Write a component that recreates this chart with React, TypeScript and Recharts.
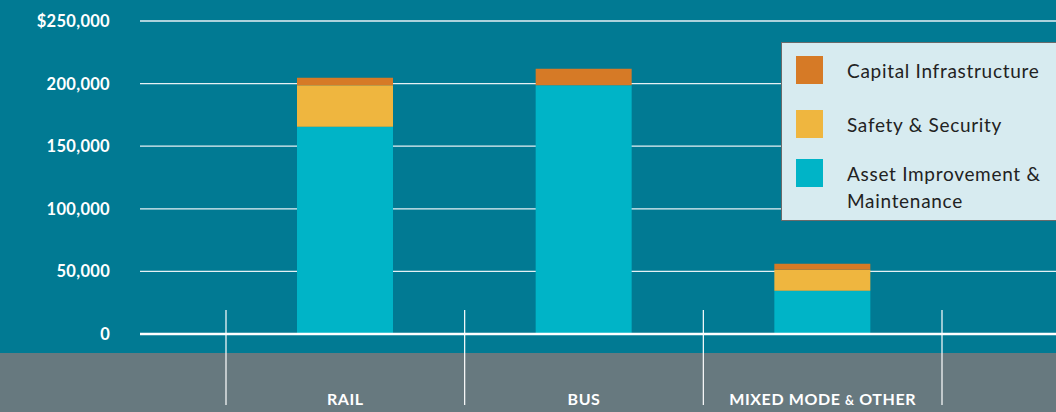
import { BarChart, Bar, XAxis, YAxis, CartesianGrid, Legend } from "recharts";

const categories = ["RAIL", "BUS", "MIXED MODE & OTHER"];
const assetImprovement = [165600, 198600, 34600];
const safetySecurity = [33000, 0, 16750];
const capitalInfrastructure = [6100, 13300, 4800];
const yTicks = [0, 50000, 100000, 150000, 200000, 250000];
const legendOrder = ["Capital Infrastructure", "Safety & Security", "Asset Improvement & Maintenance"];

const data = categories.map((name, i) => ({
  name,
  asset: assetImprovement[i],
  safety: safetySecurity[i],
  capital: capitalInfrastructure[i],
}));

const TEAL = "#017a93";
const GRAY = "#67797f";
const FONT = "Lato, 'Open Sans', sans-serif";

const YTick = (props: any) => {
  const { y, payload } = props;
  const v = payload.value as number;
  const label = v === 250000 ? `$${v.toLocaleString("en-US")}` : v.toLocaleString("en-US");
  return (
    <text x={110} y={y + 6} textAnchor="end" fill="#fff" fontSize={16.5} fontWeight={700} fontFamily={FONT} letterSpacing={0.3}>
      {label}
    </text>
  );
};

const XTick = (props: any) => {
  const { x, y, payload, index, visibleTicksCount } = props;
  const half = payload.offset ?? 119;
  const label = payload.value as string;
  const parts = label.split("&");
  const last = index === (visibleTicksCount ?? categories.length) - 1;
  return (
    <g>
      <line x1={x - half} x2={x - half} y1={y - 24} y2={y + 71} stroke="#fff" strokeWidth={1.2} />
      {last && <line x1={x + half} x2={x + half} y1={y - 24} y2={y + 71} stroke="#fff" strokeWidth={1.2} />}
      <text x={x} y={y + 71} textAnchor="middle" fill="#fff" fontSize={16} fontWeight={700} fontFamily={FONT} letterSpacing={0.6}>
        {parts.length > 1 ? (
          <>
            {parts[0]}
            <tspan fontSize={12.5}>&amp;</tspan>
            {parts[1]}
          </>
        ) : (
          label
        )}
      </text>
    </g>
  );
};

const rowHeights = [54, 49, 60];

const LegendBox = (props: any) => {
  const items = [...(props.payload || [])].sort(
    (a: any, b: any) => legendOrder.indexOf(a.value) - legendOrder.indexOf(b.value)
  );
  return (
    <div
      style={{
        background: "#d7ebf0",
        border: "1px solid #6a6a6a",
        width: 300,
        height: 179,
        boxSizing: "border-box",
        padding: "13px 0 0 14px",
        fontFamily: FONT,
        color: "#222",
        fontSize: 19,
        letterSpacing: 0.7,
        textAlign: "left",
      }}
    >
      {items.map((it: any, i: number) => (
        <div key={it.value} style={{ display: "flex", alignItems: "flex-start", height: rowHeights[i] }}>
          <div style={{ width: 27, height: 28, background: it.color, flexShrink: 0 }} />
          <div style={{ marginLeft: 24, lineHeight: "27px", marginTop: 1, width: 200 }}>{it.value}</div>
        </div>
      ))}
    </div>
  );
};

export default function App() {
  return (
    <div
      style={{
        position: "absolute",
        left: 0,
        top: 0,
        width: 1056,
        height: 412,
        overflow: "hidden",
        background: `linear-gradient(to bottom, ${TEAL} 0px, ${TEAL} 353px, ${GRAY} 353px, ${GRAY} 412px)`,
      }}
    >
      <BarChart width={1056} height={412} data={data} margin={{ top: 21, right: 0, left: 0, bottom: 0 }}>
        <CartesianGrid horizontal vertical={false} stroke="#e6f1f4" strokeWidth={1.3} />
        <XAxis
          dataKey="name"
          height={78}
          axisLine={{ stroke: "#fff", strokeWidth: 2.5 }}
          tickLine={false}
          tickSize={0}
          tickMargin={0}
          padding={{ left: 86, right: 114 }}
          tick={<XTick />}
          interval={0}
        />
        <YAxis
          width={140}
          domain={[0, 250000]}
          ticks={yTicks}
          axisLine={false}
          tickLine={false}
          tick={<YTick />}
        />
        <Legend
          verticalAlign="middle"
          align="center"
          layout="vertical"
          content={<LegendBox />}
          wrapperStyle={{ left: 781, top: 42, width: 300, height: 179 }}
        />
        <Bar dataKey="asset" name="Asset Improvement & Maintenance" stackId="a" fill="#00b4c7" barSize={96} isAnimationActive={false} />
        <Bar dataKey="safety" name="Safety & Security" stackId="a" fill="#efb63f" barSize={96} isAnimationActive={false} />
        <Bar dataKey="capital" name="Capital Infrastructure" stackId="a" fill="#d67a26" barSize={96} isAnimationActive={false} />
      </BarChart>
    </div>
  );
}
